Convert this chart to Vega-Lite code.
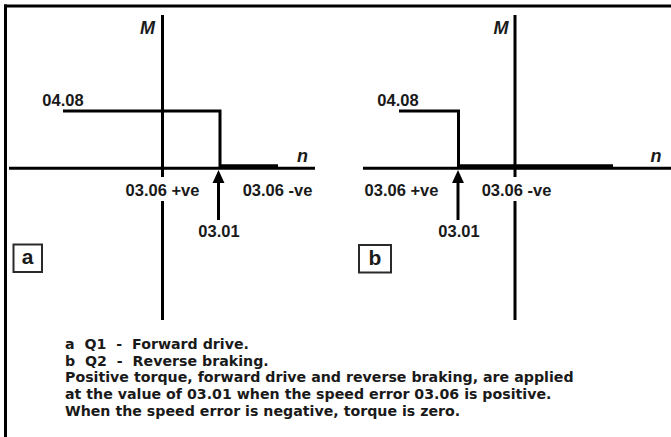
{
  "$schema": "https://vega.github.io/schema/vega-lite/v6.json",
  "width": 671,
  "height": 437,
  "autosize": {"type": "none"},
  "padding": 0,
  "background": "white",
  "config": {"view": {"stroke": null}},
  "datasets": {
    "frame": [
      {"x": 4, "y": 6, "x2": 671, "y2": 6},
      {"x": 5.5, "y": 4.5, "x2": 5.5, "y2": 437}
    ],
    "axes": [
      {"x": 9, "y": 168.3, "x2": 315, "y2": 168.3},
      {"x": 162.5, "y": 15, "x2": 162.5, "y2": 177},
      {"x": 162.5, "y": 201, "x2": 162.5, "y2": 320},
      {"x": 363, "y": 168.3, "x2": 671, "y2": 168.3},
      {"x": 515, "y": 15, "x2": 515, "y2": 177},
      {"x": 515, "y": 201, "x2": 515, "y2": 320}
    ],
    "steps": [
      {"panel": "a", "seq": 1, "x": 63, "y": 111},
      {"panel": "a", "seq": 2, "x": 220, "y": 111},
      {"panel": "a", "seq": 3, "x": 220, "y": 168},
      {"panel": "b", "seq": 1, "x": 399, "y": 111},
      {"panel": "b", "seq": 2, "x": 458.5, "y": 111},
      {"panel": "b", "seq": 3, "x": 458.5, "y": 168}
    ],
    "heavy": [
      {"x": 220, "y": 166.5, "x2": 278, "y2": 166.5},
      {"x": 458.5, "y": 166.5, "x2": 613, "y2": 166.5}
    ],
    "shafts": [
      {"x": 218.5, "y": 182, "x2": 218.5, "y2": 220},
      {"x": 458, "y": 182, "x2": 458, "y2": 220}
    ],
    "heads": [
      {"x": 218.5, "y": 176.5},
      {"x": 458, "y": 176.5}
    ],
    "boxes": [
      {"x": 13.5, "x2": 42, "y": 244.5, "y2": 272, "t": "a", "tx": 27.7, "ty": 258},
      {"x": 359, "x2": 391, "y": 245, "y2": 272.5, "t": "b", "tx": 375, "ty": 258.5}
    ],
    "labels": [
      {"x": 63, "y": 100.5, "t": "04.08", "al": "left"},
      {"x": 398, "y": 100.5, "t": "04.08", "al": "left"},
      {"x": 162.5, "y": 191, "t": "03.06 +ve", "al": "center"},
      {"x": 401.5, "y": 191, "t": "03.06 +ve", "al": "center"},
      {"x": 277.5, "y": 191, "t": "03.06 -ve", "al": "center"},
      {"x": 516.5, "y": 191, "t": "03.06 -ve", "al": "center"},
      {"x": 219, "y": 232, "t": "03.01", "al": "center"},
      {"x": 459, "y": 232, "t": "03.01", "al": "center"}
    ],
    "italics": [
      {"x": 147.5, "y": 28.5, "t": "M"},
      {"x": 501, "y": 28.5, "t": "M"},
      {"x": 302.5, "y": 157, "t": "n"},
      {"x": 656, "y": 157, "t": "n"}
    ],
    "notes": [
      {"x": 65, "y": 345, "t": "a\u00a0 Q1\u00a0 -\u00a0 Forward drive."},
      {"x": 65, "y": 361.5, "t": "b\u00a0 Q2\u00a0 -\u00a0 Reverse braking."},
      {"x": 65, "y": 378, "t": "Positive torque, forward drive and reverse braking, are applied"},
      {"x": 65, "y": 395, "t": "at the value of 03.01 when the speed error 03.06 is positive."},
      {"x": 65, "y": 411.5, "t": "When the speed error is negative, torque is zero."}
    ]
  },
  "layer": [
    {
      "data": {"name": "frame"},
      "mark": {"type": "rule", "color": "black", "strokeWidth": 3},
      "encoding": {
        "x": {"field": "x", "type": "quantitative", "scale": {"domain": [0, 671], "nice": false, "zero": false}, "axis": null},
        "y": {"field": "y", "type": "quantitative", "scale": {"domain": [0, 437], "nice": false, "zero": false, "reverse": true}, "axis": null},
        "x2": {"field": "x2"},
        "y2": {"field": "y2"}
      }
    },
    {
      "data": {"name": "axes"},
      "mark": {"type": "rule", "color": "black", "strokeWidth": 3},
      "encoding": {
        "x": {"field": "x", "type": "quantitative"},
        "y": {"field": "y", "type": "quantitative"},
        "x2": {"field": "x2"},
        "y2": {"field": "y2"}
      }
    },
    {
      "data": {"name": "steps"},
      "mark": {"type": "line", "color": "black", "strokeWidth": 3, "strokeJoin": "miter", "strokeCap": "butt"},
      "encoding": {
        "x": {"field": "x", "type": "quantitative"},
        "y": {"field": "y", "type": "quantitative"},
        "detail": {"field": "panel"},
        "order": {"field": "seq"}
      }
    },
    {
      "data": {"name": "heavy"},
      "mark": {"type": "rule", "color": "black", "strokeWidth": 4.5},
      "encoding": {
        "x": {"field": "x", "type": "quantitative"},
        "y": {"field": "y", "type": "quantitative"},
        "x2": {"field": "x2"},
        "y2": {"field": "y2"}
      }
    },
    {
      "data": {"name": "shafts"},
      "mark": {"type": "rule", "color": "black", "strokeWidth": 3},
      "encoding": {
        "x": {"field": "x", "type": "quantitative"},
        "y": {"field": "y", "type": "quantitative"},
        "x2": {"field": "x2"},
        "y2": {"field": "y2"}
      }
    },
    {
      "data": {"name": "heads"},
      "mark": {"type": "point", "filled": true, "color": "black", "opacity": 1, "shape": "M0,-1L0.92,1L-0.92,1Z", "size": 169},
      "encoding": {
        "x": {"field": "x", "type": "quantitative"},
        "y": {"field": "y", "type": "quantitative"}
      }
    },
    {
      "data": {"name": "boxes"},
      "mark": {"type": "rect", "fill": "white", "stroke": "#2a2a2a", "strokeWidth": 2},
      "encoding": {
        "x": {"field": "x", "type": "quantitative"},
        "y": {"field": "y", "type": "quantitative"},
        "x2": {"field": "x2"},
        "y2": {"field": "y2"}
      }
    },
    {
      "data": {"name": "boxes"},
      "mark": {"type": "text", "font": "Liberation Sans", "fontWeight": "bold", "fontSize": 21, "color": "#1a1a1a", "align": "center", "baseline": "middle"},
      "encoding": {
        "x": {"field": "tx", "type": "quantitative"},
        "y": {"field": "ty", "type": "quantitative"},
        "text": {"field": "t"}
      }
    },
    {
      "data": {"name": "labels"},
      "mark": {"type": "text", "font": "Liberation Sans", "fontWeight": "bold", "fontSize": 16.5, "color": "#1a1a1a", "baseline": "middle"},
      "encoding": {
        "x": {"field": "x", "type": "quantitative"},
        "y": {"field": "y", "type": "quantitative"},
        "text": {"field": "t"},
        "align": {"field": "al"}
      }
    },
    {
      "data": {"name": "italics"},
      "mark": {"type": "text", "font": "Liberation Sans", "fontWeight": "bold", "fontStyle": "italic", "fontSize": 18, "color": "#1a1a1a", "align": "center", "baseline": "middle"},
      "encoding": {
        "x": {"field": "x", "type": "quantitative"},
        "y": {"field": "y", "type": "quantitative"},
        "text": {"field": "t"}
      }
    },
    {
      "data": {"name": "notes"},
      "mark": {"type": "text", "font": "DejaVu Sans", "fontWeight": "bold", "fontSize": 14.2, "color": "#1a1a1a", "align": "left", "baseline": "middle"},
      "encoding": {
        "x": {"field": "x", "type": "quantitative"},
        "y": {"field": "y", "type": "quantitative"},
        "text": {"field": "t"}
      }
    }
  ]
}
